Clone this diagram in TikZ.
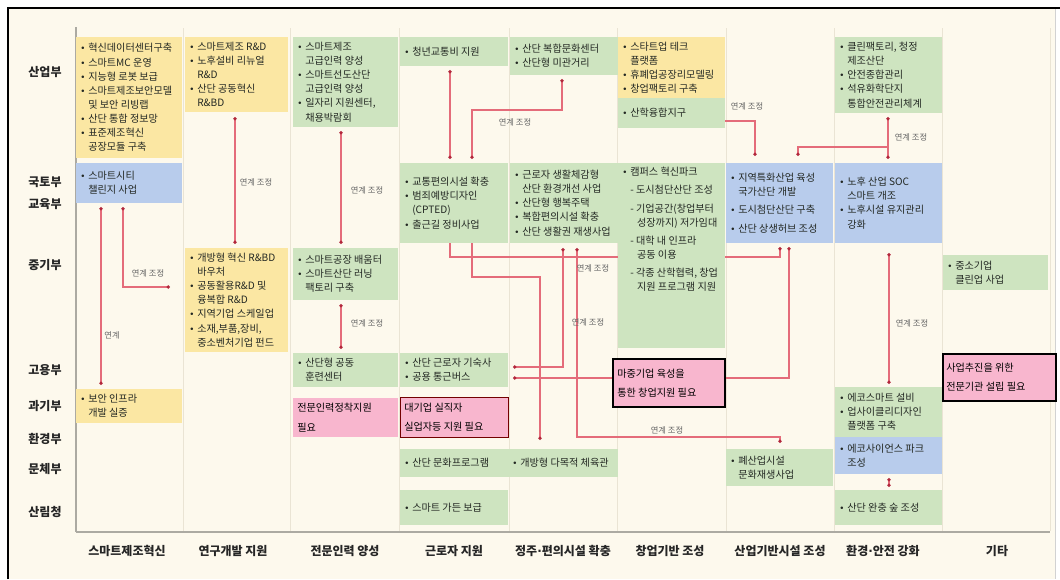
\documentclass[tikz,border=0pt]{standalone}
\usepackage{fontspec}
\setmainfont{Noto Sans CJK KR}
\newfontfamily\dejavu{DejaVu Sans}
\usetikzlibrary{fit,calc,arrows.meta}
\pgfdeclarelayer{bg}
\pgfsetlayers{bg,main}
\definecolor{cream}{RGB}{253,249,237}
\definecolor{byel}{RGB}{251,231,163}
\definecolor{bgrn}{RGB}{206,228,192}
\definecolor{bblu}{RGB}{184,204,236}
\definecolor{bpnk}{RGB}{248,182,206}
\definecolor{lnk}{RGB}{228,108,122}
\definecolor{dotc}{RGB}{178,40,60}
\definecolor{txtc}{RGB}{35,40,35}
\definecolor{divc}{RGB}{234,228,212}
\definecolor{axc}{RGB}{172,170,162}
\newcommand\bu{\makebox[6pt][l]{\dejavu\fontsize{6.5}{8}\selectfont •}}
\newcommand\ind{\hspace*{6pt}}
\newcommand\mdot{{\dejavu ·}}
\begin{document}
\begin{tikzpicture}[x=0.75pt,y=-0.75pt,
  bxs/.style={inner sep=0pt,outer sep=0pt},
  yb/.style={bxs,fill=byel},
  gb/.style={bxs,fill=bgrn},
  bb/.style={bxs,fill=bblu},
  pb/.style={bxs,fill=bpnk},
  txt/.style={inner sep=0pt,anchor=west,align=left,text=txtc,font=\fontsize{7.6}{10.6}\selectfont},
  ptxt/.style={inner sep=0pt,anchor=west,align=left,text=black,font=\fontsize{7.6}{14.5}\selectfont},
  rowlab/.style={font=\fontsize{9}{11}\selectfont\bfseries,text=black!85},
  collab/.style={font=\fontsize{9}{11}\selectfont\bfseries,text=black!85},
  link/.style={draw=lnk,line width=0.8pt},
  twodot/.style={{Circle[length=2.6pt,color=dotc]}-{Circle[length=2.6pt,color=dotc]}},
  enddot/.style={-{Circle[length=2.6pt,color=dotc]}},
  lab/.style={font=\fontsize{6.2}{7}\selectfont,text=black!60,inner sep=1pt}
]
\useasboundingbox (0,0) rectangle (1060,579);
\begin{pgfonlayer}{bg}
\fill[white] (0,0) rectangle (1060,579);
\fill[cream] (8,8) rectangle (1056,579);
\foreach \xx in {183,290,399,509,617,726,834,942,1050}
  \draw[divc,line width=0.7pt] (\xx,28) -- (\xx,531);
\draw[axc,line width=0.8pt] (76,27) -- (76,532);
\draw[axc,line width=1.5pt] (76,532) -- (1050,532);
\end{pgfonlayer}
\draw[black,line width=1.6pt] (8,579) -- (8,8) -- (1060,8);
\draw[gray!35,line width=0.6pt] (1055,9) -- (1055,579);

% ---------- boxes ----------
\node[yb,fit={(76,37) (182,158)}] (a1) {};
\node[bb,fit={(76,163) (182,203)}] (a2) {};
\node[yb,fit={(76,389) (182,423)}] (a3) {};
\node[yb,fit={(185,37) (288,112)}] (b1) {};
\node[yb,fit={(185,248) (288,352)}] (b2) {};
\node[gb,fit={(293,37) (398,127)}] (c1) {};
\node[gb,fit={(293,248) (398,300)}] (c2) {};
\node[gb,fit={(293,353) (398,387)}] (c3) {};
\node[pb,fit={(293,398) (398,437)}] (c4) {};
\node[gb,fit={(400,37) (508,66)}] (d1) {};
\node[gb,fit={(400,163) (508,243)}] (d2) {};
\node[gb,fit={(400,353) (508,387)}] (d3) {};
\node[pb,draw=red!45!black,line width=0.6pt,fit={(400,397) (508,437)}] (d4) {};
\node[gb,fit={(400,449) (509,477)}] (d5) {};
\node[gb,fit={(400,490) (508,525)}] (d6) {};
\node[gb,fit={(510,37) (618,75)}] (e1) {};
\node[gb,fit={(510,163) (618,243)}] (e2) {};
\node[gb,fit={(509,449) (618,477)}] (e3) {};
\node[yb,fit={(618,37) (725,98)}] (f1) {};
\node[gb,fit={(618,98) (725,128)}] (f2) {};
\node[gb,fit={(618,163) (725,348)}] (f3) {};
\node[pb,draw=black,line width=1.1pt,fit={(613,359) (725,407)}] (f4) {};
\node[bb,fit={(726,163) (833,243)}] (g1) {};
\node[gb,fit={(726,449) (833,486)}] (g2) {};
\node[gb,fit={(835,37) (942,113)}] (h1) {};
\node[bb,fit={(835,163) (942,243)}] (h2) {};
\node[gb,fit={(835,387) (942,437)}] (h3) {};
\node[bb,fit={(835,437) (942,474)}] (h4) {};
\node[gb,fit={(835,490) (942,525)}] (h5) {};
\node[gb,fit={(943,255) (1048,290)}] (i1) {};
\node[pb,draw=black,line width=1.1pt,fit={(943,354) (1056,401)}] (i2) {};

% ---------- box texts ----------
\node[txt] (a1t) at ($(a1.west)+(4,0)$) {\bu 혁신데이터센터구축\\\bu 스마트MC 운영\\\bu 지능형 로봇 보급\\\bu 스마트제조보안모델\\\ind 및 보안 리빙랩\\\bu 산단 통합 정보망\\\bu 표준제조혁신\\\ind 공장모듈 구축};
\node[txt] (a2t) at ($(a2.west)+(4,0)$) {\bu 스마트시티\\\ind 챌린지 사업};
\node[txt] (a3t) at ($(a3.west)+(4,0)$) {\bu 보안 인프라\\\ind 개발 실증};
\node[txt] (b1t) at ($(b1.west)+(4,0)$) {\bu 스마트제조 R\&D\\\bu 노후설비 리뉴얼\\\ind R\&D\\\bu 산단 공동혁신\\\ind R\&BD};
\node[txt] (b2t) at ($(b2.west)+(4,0)$) {\bu 개방형 혁신 R\&BD\\\ind 바우처\\\bu 공동활용R\&D 및\\\ind 융복합 R\&D\\\bu 지역기업 스케일업\\\bu 소재,부품,장비,\\\ind 중소벤처기업 펀드};
\node[txt] (c1t) at ($(c1.west)+(4,0)$) {\bu 스마트제조\\\ind 고급인력 양성\\\bu 스마트선도산단\\\ind 고급인력 양성\\\bu 일자리 지원센터,\\\ind 채용박람회};
\node[txt] (c2t) at ($(c2.west)+(4,0)$) {\bu 스마트공장 배움터\\\bu 스마트산단 러닝\\\ind 팩토리 구축};
\node[txt] (c3t) at ($(c3.west)+(4,0)$) {\bu 산단형 공동\\\ind 훈련센터};
\node[ptxt] (c4t) at ($(c4.west)+(4,0)$) {전문인력정착지원\\필요};
\node[txt] (d1t) at ($(d1.west)+(4,0)$) {\bu 청년교통비 지원};
\node[txt] (d2t) at ($(d2.west)+(4,0)$) {\bu 교통편의시설 확충\\\bu 범죄예방디자인\\\ind (CPTED)\\\bu 출근길 정비사업};
\node[txt] (d3t) at ($(d3.west)+(4,0)$) {\bu 산단 근로자 기숙사\\\bu 공용 통근버스};
\node[ptxt] (d4t) at ($(d4.west)+(4,0)$) {대기업 실직자\\실업자등 지원 필요};
\node[txt] (d5t) at ($(d5.west)+(4,0)$) {\bu 산단 문화프로그램};
\node[txt] (d6t) at ($(d6.west)+(4,0)$) {\bu 스마트 가든 보급};
\node[txt] (e1t) at ($(e1.west)+(4,0)$) {\bu 산단 복합문화센터\\\bu 산단형 미관거리};
\node[txt] (e2t) at ($(e2.west)+(4,0)$) {\bu 근로자 생활체감형\\\ind 산단 환경개선 사업\\\bu 산단형 행복주택\\\bu 복합편의시설 확충\\\bu 산단 생활권 재생사업};
\node[txt] (e3t) at ($(e3.west)+(3,0)$) {\bu 개방형 다목적 체육관};
\node[txt] (f1t) at ($(f1.west)+(4,0)$) {\bu 스타트업 테크\\\ind 플랫폼\\\bu 휴폐업공장리모델링\\\bu 창업팩토리 구축};
\node[txt] (f2t) at ($(f2.west)+(4,0)$) {\bu 산학융합지구};
\node[txt,anchor=north west] (f3t) at ($(f3.north west)+(4,4)$) {\bu 캠퍼스 혁신파크\\[3pt]\ind - 도시첨단산단 조성\\[3pt]\ind - 기업공간(창업부터\\\ind\ \ \ 성장까지) 저가임대\\[3pt]\ind - 대학 내 인프라\\\ind\ \ \ 공동 이용\\[3pt]\ind - 각종 산학협력, 창업\\\ind\ \ \ 지원 프로그램 지원};
\node[ptxt] (f4t) at ($(f4.west)+(4,0)$) {마중기업 육성을\\통한 창업지원 필요};
\node[txt] (g1t) at ($(g1.west)+(4,0)$) {\bu 지역특화산업 육성\\\ind 국가산단 개발\\[3pt]\bu 도시첨단산단 구축\\[3pt]\bu 산단 상생허브 조성};
\node[txt] (g2t) at ($(g2.west)+(4,0)$) {\bu 폐산업시설\\\ind 문화재생사업};
\node[txt] (h1t) at ($(h1.west)+(4,0)$) {\bu 클린팩토리, 청정\\\ind 제조산단\\\bu 안전종합관리\\\bu 석유화학단지\\\ind 통합안전관리체계};
\node[txt] (h2t) at ($(h2.west)+(4,0)$) {\bu 노후 산업 SOC\\\ind 스마트 개조\\\bu 노후시설 유지관리\\\ind 강화};
\node[txt] (h3t) at ($(h3.west)+(4,0)$) {\bu 에코스마트 설비\\\bu 업사이클리디자인\\\ind 플랫폼 구축};
\node[txt] (h4t) at ($(h4.west)+(4,0)$) {\bu 에코사이언스 파크\\\ind 조성};
\node[txt] (h5t) at ($(h5.west)+(4,0)$) {\bu 산단 완충 숲 조성};
\node[txt] (i1t) at ($(i1.west)+(4,0)$) {\bu 중소기업\\\ind 클린업 사업};
\node[ptxt] (i2t) at ($(i2.west)+(3,0)$) {사업추진을 위한\\전문기관 설립 필요};

% ---------- connectors ----------
\begin{pgfonlayer}{bg}
\draw[link,twodot] ($(a2.south west)+(25,4)$) -- ($(a3.north west)+(25,-4)$);
\draw[link,twodot] ($(a2.south west)+(47,4)$) |- ($(b2.north west)+(-15,39)$);
\draw[link,twodot] ($(b1.south west)+(50,5)$) -- ($(b2.north west)+(50,-4)$);
\draw[link,twodot] ($(c1.south west)+(48,4)$) -- ($(c2.north west)+(48,-4)$);
\draw[link,twodot] ($(c2.south west)+(48,4)$) -- ($(c3.north west)+(48,-4)$);
\draw[link,twodot] ($(d1.south west)+(50,4)$) -- ($(d2.north west)+(50,-4)$);
\draw[link,twodot] ($(e1.south west)+(52,4)$) |- ($(d2.north west)+(72,-53)$) -- ($(d2.north west)+(72,-4)$);
\draw[link,enddot] ($(d2.south west)+(50,0)$) |- ($(g1.south west)+(54,14)$) -- ($(g1.south west)+(54,4)$);
\draw[link,enddot] ($(d2.south west)+(72,0)$) |- ($(e3.north west)+(31,-172)$) -- ($(e3.north west)+(31,-9)$);
\draw[link,twodot] ($(e2.south west)+(53,5)$) |- ($(d3.north east)+(5,14)$);
\draw[link,twodot] ($(g1.south west)+(63,4)$) |- ($(d3.north east)+(5,25)$);
\draw[link,twodot] ($(e2.south west)+(67,5)$) |- ($(g2.north west)+(54,-12)$) -- ($(g2.north west)+(54,-6)$);
\draw[link,enddot] ($(f2.south east)+(0,-7)$) -| ($(g1.north west)+(29,-7)$);
\draw[link,twodot] ($(h1.south west)+(53,4)$) -- ($(h2.north west)+(53,-4)$);
\draw[link,enddot] ($(h1.south west)+(53,34)$) -| ($(g1.north west)+(72,-7)$);
\draw[link,twodot] ($(h2.south west)+(54,10)$) -- ($(h3.north west)+(54,-3)$);
\draw[link,twodot] ($(h4.south west)+(54,4)$) -- ($(h5.north west)+(54,-3)$);
\end{pgfonlayer}

% ---------- connector labels ----------
\node[lab] (l1) at (112,335) {연계};
\node[lab] (l2) at (148,273) {연계 조정};
\node[lab] (l3) at (256,182) {연계 조정};
\node[lab] (l4) at (367,190) {연계 조정};
\node[lab] (l5) at (367,323) {연계 조정};
\node[lab] (l6) at (515,122) {연계 조정};
\node[lab] (l7) at (593,268) {연계 조정};
\node[lab] (l8) at (588,322) {연계 조정};
\node[lab] (l9) at (667,430) {연계 조정};
\node[lab] (l10) at (747,106) {연계 조정};
\node[lab] (l11) at (911,137) {연계 조정};
\node[lab] (l12) at (912,323) {연계 조정};

% ---------- row labels ----------
\node[rowlab] (r1) at (45,72) {산업부};
\node[rowlab] (r2) at (45,182) {국토부};
\node[rowlab] (r3) at (45,204) {교육부};
\node[rowlab] (r4) at (45,265) {중기부};
\node[rowlab] (r5) at (45,370) {고용부};
\node[rowlab] (r6) at (45,406) {과기부};
\node[rowlab] (r7) at (45,439) {환경부};
\node[rowlab] (r8) at (45,469) {문체부};
\node[rowlab] (r9) at (45,512) {산림청};

% ---------- column labels ----------
\node[collab] (k1) at (127,551) {스마트제조혁신};
\node[collab] (k2) at (233,551) {연구개발 지원};
\node[collab] (k3) at (345,551) {전문인력 양성};
\node[collab] (k4) at (454,551) {근로자 지원};
\node[collab] (k5) at (563,551) {정주\mdot 편의시설 확충};
\node[collab] (k6) at (670,551) {창업기반 조성};
\node[collab] (k7) at (780,551) {산업기반시설 조성};
\node[collab] (k8) at (883,551) {환경\mdot 안전 강화};
\node[collab] (k9) at (997,551) {기타};
\end{tikzpicture}
\end{document}
